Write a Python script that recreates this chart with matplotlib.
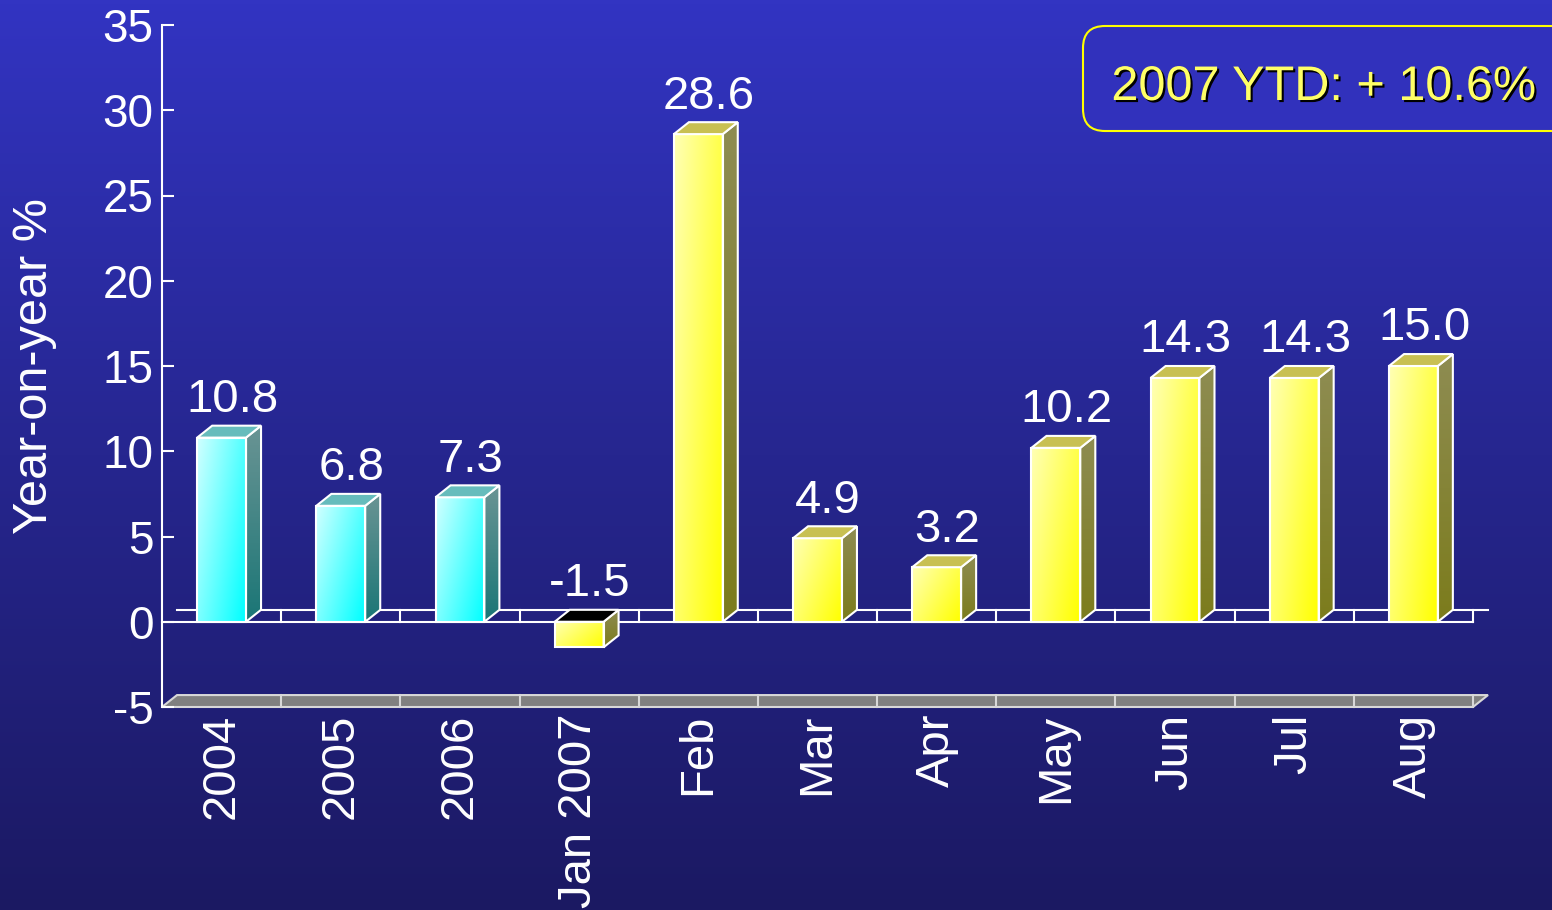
import numpy as np
import matplotlib.pyplot as plt
import matplotlib.patheffects as pe
from matplotlib.colors import LinearSegmentedColormap
from matplotlib.patches import Polygon, FancyBboxPatch

categories = ["2004", "2005", "2006", "Jan 2007", "Feb", "Mar",
              "Apr", "May", "Jun", "Jul", "Aug"]
values = [10.8, 6.8, 7.3, -1.5, 28.6, 4.9, 3.2, 10.2, 14.3, 14.3, 15.0]
n_annual = 3  # first bars are full years, the rest are months of 2007
yticks = list(range(-5, 36, 5))
ylabel = "Year-on-year %"
ytd_text = "2007 YTD: + 10.6%"

plt.rcParams["font.family"] = ["Liberation Sans", "DejaVu Sans"]
plt.rcParams["axes.unicode_minus"] = False

W, H = 1552, 910
fig = plt.figure(figsize=(W / 100, H / 100), dpi=100)

# background: vertical blue gradient
bg = fig.add_axes([0, 0, 1, 1], zorder=-10)
bg_cmap = LinearSegmentedColormap.from_list("bg", ["#1b1962", "#26268f", "#3234c2"])
bg.imshow(np.linspace(1, 0, 256).reshape(-1, 1), cmap=bg_cmap, aspect="auto",
          extent=[0, 1, 0, 1])
bg.axis("off")

ax = fig.add_axes([162 / W, (H - 707) / H, (1473 - 162) / W, (707 - 25) / H])
ax.set_facecolor("none")

DX, DY = 0.126, 0.70   # 3d depth offset in data units
BW = 0.41              # bar width
x0, x1 = -0.5, len(categories) - 0.5
ymin = yticks[0]
EDGE = dict(edgecolor="white", lw=1.5, joinstyle="miter")

# floor slab at the bottom of the axis
ax.add_patch(Polygon([(x0, ymin), (x1, ymin), (x1 + DX, ymin + DY), (x0 + DX, ymin + DY)],
                     facecolor="#808080", edgecolor="#d8d8d8", lw=1.5, zorder=1,
                     clip_on=False))
for b in np.arange(x0 + 1, x1 + 0.01):
    ax.plot([b, b], [ymin, ymin + DY], color="#d8d8d8", lw=1.5, zorder=1.1, clip_on=False)

# zero plane
ax.plot([x0, x1], [0, 0], color="white", lw=1.5, zorder=1, clip_on=False)
ax.plot([x0 + DX, x1 + DX], [DY, DY], color="white", lw=1.5, zorder=1, clip_on=False)
for b in np.arange(x0 + 1, x1 + 0.01):
    ax.plot([b, b], [0, DY], color="white", lw=1.5, zorder=1, clip_on=False)


def grad_poly(xy, extent, colors, weights, z):
    cmap = LinearSegmentedColormap.from_list("", colors)
    u = np.linspace(0, 1, 32)[None, :]
    v = np.linspace(0, 1, 128)[:, None]
    t = weights[0] * u + weights[1] * v
    im = ax.imshow(t / t.max(), cmap=cmap, extent=extent, aspect="auto",
                   origin="upper", interpolation="bilinear", zorder=z)
    clip = Polygon(xy, closed=True, transform=ax.transData)
    im.set_clip_path(clip)
    ax.add_patch(Polygon(xy, closed=True, fill=False, zorder=z + 0.1, **EDGE))


palettes = {
    "cyan": dict(front=["#d0ffff", "#00ffff"], side=["#6a9494", "#1a7676"], top="#66bcbc"),
    "yellow": dict(front=["#ffffb4", "#ffff00"], side=["#8e8c52", "#7c7c1c"], top="#c8c052"),
}

for i, v in enumerate(values):
    pal = palettes["cyan" if i < n_annual else "yellow"]
    lo, hi = min(v, 0), max(v, 0)
    l, r = i - BW / 2, i + BW / 2
    front = [(l, lo), (r, lo), (r, hi), (l, hi)]
    grad_poly(front, [l, r, lo, hi], pal["front"], (0.6, 0.4), 3)
    side = [(r, lo), (r + DX, lo + DY), (r + DX, hi + DY), (r, hi)]
    grad_poly(side, [r, r + DX, lo, hi + DY], pal["side"], (0.0, 1.0), 3)
    top = [(l, hi), (r, hi), (r + DX, hi + DY), (l + DX, hi + DY)]
    ax.add_patch(Polygon(top, closed=True, facecolor=pal["top"] if v >= 0 else "black",
                         zorder=3.2, **EDGE))
    ax.text(i + 0.09, hi + DY + 0.8, f"{v:.1f}", ha="center", va="baseline",
            fontsize=34, color="white", zorder=4)

ax.set_xlim(x0, x1)
ax.set_ylim(ymin, yticks[-1])
for s in ["top", "right", "bottom"]:
    ax.spines[s].set_visible(False)
ax.spines["left"].set_color("white")
ax.spines["left"].set_linewidth(1.5)
ax.set_yticks(yticks)
ax.tick_params(axis="y", direction="in", length=8.6, width=1.5, colors="white",
               labelsize=33, pad=6)
ax.set_xticks(range(len(categories)), categories, rotation=90)
ax.tick_params(axis="x", length=0, pad=5, colors="white", labelsize=34)

fig.text(35 / W, 1 - 366 / H, ylabel, rotation=90, ha="center", va="center",
         fontsize=35, color="white")

# YTD call-out box, runs off the right edge
fig.add_artist(FancyBboxPatch((10.83, (H - 131) / 100), 6.0, 1.05,
                              boxstyle="round,pad=0,rounding_size=0.22",
                              transform=fig.dpi_scale_trans, facecolor="#3131bc",
                              edgecolor="#ffff00", lw=1.5))
fig.text(1324 / W, 1 - 100 / H, ytd_text, ha="center", va="baseline", fontsize=35,
         color="#ffff66",
         path_effects=[pe.SimplePatchShadow(offset=(1.5, -1.5), shadow_rgbFace="black",
                                            alpha=1.0), pe.Normal()])

fig.savefig("out.png", dpi=100)
